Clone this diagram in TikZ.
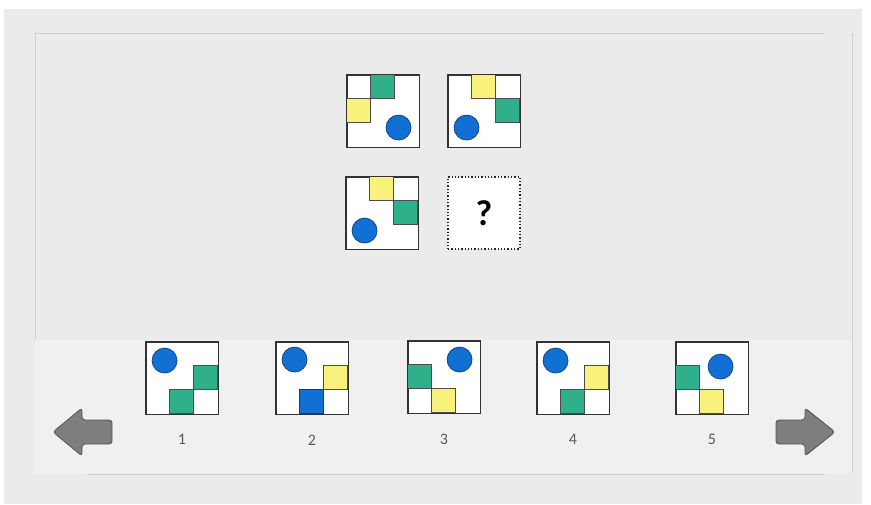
\documentclass[tikz,border=0pt]{standalone}
\usepackage{fontspec}
\setmainfont{Carlito}
\usetikzlibrary{positioning}

\definecolor{panel}{HTML}{EBEBEB}
\definecolor{band}{HTML}{F0F0F0}
\definecolor{rule}{HTML}{CFCFCF}
\definecolor{tgreen}{HTML}{2FB08B}
\definecolor{tyellow}{HTML}{F8F17C}
\definecolor{tblue}{HTML}{1270D4}
\definecolor{tbluedark}{HTML}{0B3F80}
\definecolor{arrowfill}{HTML}{7E7E7E}

% one 24pt cell of a 3x3 tile, counted from the tile's top left
\newcommand\sq[3]{\filldraw[#1] (#2*24,#3*24) rectangle ++(24,24);}

\begin{document}
\begin{tikzpicture}[
  x=1pt, y=-1pt,
  node distance=20pt,
  tile/.style={draw=black!80, fill=white, line width=0.9pt, minimum size=72pt, inner sep=0pt},
  blank/.style={draw=black!85, fill=white, dotted, line width=1.3pt, minimum size=72pt, inner sep=0pt},
  grn/.style={fill=tgreen, draw=black!70, line width=0.6pt},
  ylw/.style={fill=tyellow, draw=black!70, line width=0.6pt},
  blu/.style={fill=tblue, draw=tbluedark, line width=0.7pt},
  num/.style={text=black!65, font=\fontsize{16}{18}\selectfont, inner sep=0pt},
  nav/.style={fill=arrowfill, draw=black!65, line width=0.9pt, rounded corners=3pt}
]
\useasboundingbox (0,0) rectangle (871,504);
\fill[white] (0,0) rectangle (871,504);
\fill[panel] (4,9) rectangle (862,504);
\fill[band] (35,340) rectangle (852,474);
\draw[rule, line width=0.8pt] (35,33) -- (825,33);
\draw[rule, line width=0.8pt] (852,33) -- (852,473);
\draw[rule, line width=0.8pt] (35,33) -- (35,340);
\draw[rule, line width=0.8pt] (87,474) -- (825,474);

% question matrix
\node[tile] (q1) at (383,111) {};
\node[tile] (q2) at (484,111) {};
\node[tile] (q3) at (382,213) {};
\node[blank] (q4) at (484,213) {\fontsize{36}{38}\selectfont\bfseries ?};

\begin{scope}[shift={(q1.north west)}]
  \sq{grn}{1}{0} \sq{ylw}{0}{1}
  \filldraw[blu] (52,53) circle (12.5pt);
\end{scope}
\begin{scope}[shift={(q2.north west)}]
  \sq{ylw}{1}{0} \sq{grn}{2}{1}
  \filldraw[blu] (19,53) circle (12.5pt);
\end{scope}
\begin{scope}[shift={(q3.north west)}]
  \sq{ylw}{1}{0} \sq{grn}{2}{1}
  \filldraw[blu] (19,54) circle (12.5pt);
\end{scope}
\draw[black!80, line width=0.9pt] (q1.north west) rectangle (q1.south east);
\draw[black!80, line width=0.9pt] (q2.north west) rectangle (q2.south east);
\draw[black!80, line width=0.9pt] (q3.north west) rectangle (q3.south east);

% answer choices
\node[tile] (a1) at (182,378) {};
\node[tile] (a2) at (312,378) {};
\node[tile] (a3) at (444,377) {};
\node[tile] (a4) at (573,378) {};
\node[tile] (a5) at (712,378) {};

\begin{scope}[shift={(a1.north west)}]
  \sq{grn}{2}{1} \sq{grn}{1}{2}
  \filldraw[blu] (19,19) circle (12.5pt);
\end{scope}
\begin{scope}[shift={(a2.north west)}]
  \sq{ylw}{2}{1} \sq{blu}{1}{2}
  \filldraw[blu] (19,18) circle (12.5pt);
\end{scope}
\begin{scope}[shift={(a3.north west)}]
  \sq{grn}{0}{1} \sq{ylw}{1}{2}
  \filldraw[blu] (52,19) circle (12.5pt);
\end{scope}
\begin{scope}[shift={(a4.north west)}]
  \sq{ylw}{2}{1} \sq{grn}{1}{2}
  \filldraw[blu] (19,19) circle (12.5pt);
\end{scope}
\begin{scope}[shift={(a5.north west)}]
  \sq{grn}{0}{1} \sq{ylw}{1}{2}
  \filldraw[blu] (45,25) circle (12.5pt);
\end{scope}
\foreach \n in {a1,a2,a3,a4,a5}
  \draw[black!80, line width=0.9pt] (\n.north west) rectangle (\n.south east);

\node[num, below=of a1] (n1) {1};
\node[num, below=of a2] (n2) {2};
\node[num, below=of a3] (n3) {3};
\node[num, below=of a4] (n4) {4};
\node[num, below=of a5] (n5) {5};

% navigation arrows
\filldraw[nav] (53,432) -- (82,408) -- (82,420) -- (112,420) -- (112,444)
  -- (82,444) -- (82,456) -- cycle;
\filldraw[nav] (835,432) -- (805,408) -- (805,420) -- (776,420) -- (776,444)
  -- (805,444) -- (805,456) -- cycle;
\end{tikzpicture}
\end{document}
